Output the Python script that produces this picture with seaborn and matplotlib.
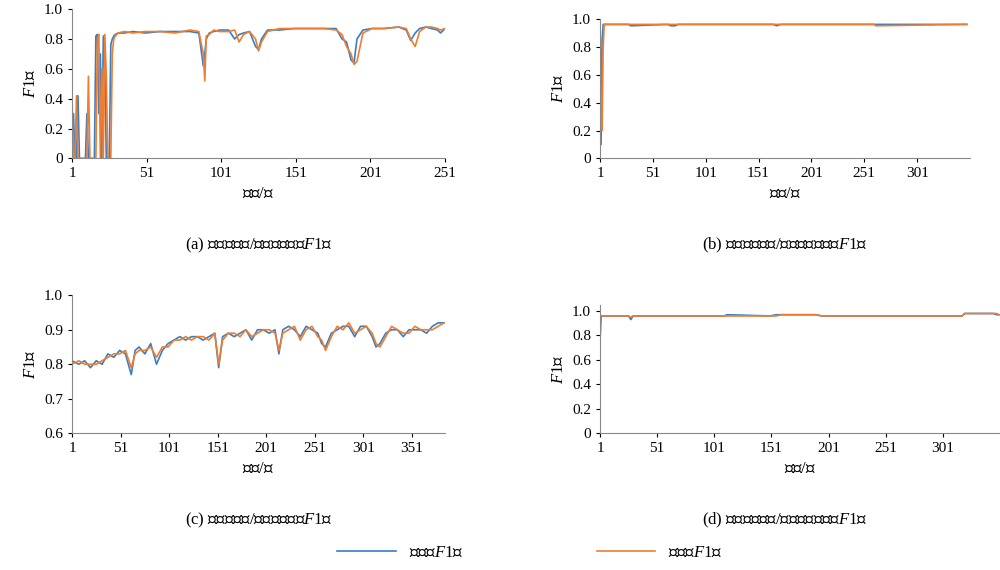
import matplotlib
matplotlib.use("Agg")
import matplotlib.pyplot as plt
import seaborn as sns
import pandas as pd

plt.rcParams["font.family"] = ["Liberation Serif", "Noto Sans CJK SC"]
plt.rcParams["mathtext.fontset"] = "custom"
plt.rcParams["mathtext.it"] = "Liberation Serif:italic"
plt.rcParams["mathtext.cal"] = "Liberation Serif"
plt.rcParams["mathtext.rm"] = "Noto Sans CJK SC"

a_x = [1,2,3,4,5,6,7,8,9,10, 11,12,13,14,15,16,17,18,19,20, 21,22,23,24,25,26,27,28,29,30,
       32,36,42,50,60,70,80,86,89,90, 91,93,96,100,106,110,113,116,120,124,
       126,128,132,140,150,160,170,178,182,185, 188,190,192,196,202,210,220,225,228,231,
       234,238,242,246,248,251]
a_train = [0.0,0.3,0.0,0.0,0.42,0.0,0.0,0.0,0.0,0.0, 0.3,0.0,0.0,0.0,0.0,0.0,0.82,0.83,0.3,0.7,
           0.0,0.82,0.6,0.0,0.0,0.0,0.76,0.8,0.82,0.83, 0.84,0.84,0.85,0.84,0.85,0.85,0.85,0.84,0.62,0.7,
           0.8,0.84,0.85,0.86,0.86,0.8,0.83,0.84,0.85,0.75, 0.73,0.8,0.86,0.86,0.87,0.87,0.87,0.87,0.8,0.78,
           0.66,0.64,0.8,0.86,0.87,0.87,0.88,0.86,0.79,0.84, 0.87,0.88,0.87,0.86,0.84,0.87]
a_test = [0.4,0.0,0.0,0.42,0.0,0.0,0.0,0.0,0.0,0.0, 0.0,0.55,0.0,0.0,0.0,0.0,0.0,0.8,0.83,0.0,
          0.6,0.0,0.83,0.55,0.0,0.0,0.0,0.7,0.8,0.82, 0.84,0.85,0.84,0.85,0.85,0.84,0.86,0.85,0.7,0.52,
          0.82,0.83,0.86,0.85,0.85,0.86,0.78,0.83,0.85,0.8, 0.72,0.78,0.85,0.87,0.87,0.87,0.87,0.86,0.83,0.75,
          0.7,0.63,0.65,0.84,0.87,0.87,0.88,0.87,0.8,0.75, 0.85,0.88,0.88,0.87,0.86,0.87]

b_x = [1,2,3,4,5,8,15,28,30,65,68,72,75,100,165,168,172,260,262,345,348]
b_train = [0.96,0.1,0.85,0.96,0.96,0.96,0.96,0.96,0.95,0.96,0.95,0.95,0.96,0.96,0.96,0.95,0.96,0.96,0.96,0.96,0.96]
b_test = [0.96,0.3,0.2,0.8,0.96,0.96,0.96,0.96,0.96,0.96,0.96,0.96,0.96,0.96,0.96,0.96,0.96,0.96,0.95,0.96,0.96]

c_x = [1,8,14,20,26,32,38,44,50,56, 62,66,70,76,82,88,94,100,106,112,
       118,124,130,136,142,148,152,156,162,168, 174,180,186,192,198,204,210,214,218,224,
       230,236,242,248,254,258,262,268,274,280, 286,292,298,304,310,314,318,324,330,336,
       342,348,354,360,366,372,378,384]
c_train = [0.81,0.8,0.81,0.79,0.81,0.8,0.83,0.82,0.84,0.83, 0.77,0.84,0.85,0.83,0.86,0.8,0.84,0.86,0.87,0.88,
           0.87,0.88,0.88,0.87,0.88,0.89,0.79,0.88,0.89,0.88, 0.89,0.9,0.87,0.9,0.9,0.89,0.9,0.83,0.9,0.91,
           0.9,0.88,0.91,0.9,0.89,0.86,0.85,0.89,0.9,0.91, 0.91,0.88,0.91,0.91,0.88,0.85,0.86,0.89,0.9,0.9,
           0.88,0.9,0.9,0.9,0.89,0.91,0.92,0.92]
c_test = [0.8,0.81,0.8,0.8,0.8,0.81,0.82,0.83,0.83,0.84, 0.79,0.83,0.84,0.84,0.85,0.82,0.85,0.85,0.87,0.87,
          0.88,0.87,0.88,0.88,0.87,0.89,0.8,0.87,0.89,0.89, 0.88,0.9,0.88,0.89,0.9,0.9,0.89,0.84,0.89,0.9,
          0.91,0.87,0.9,0.91,0.88,0.87,0.84,0.88,0.91,0.9, 0.92,0.89,0.9,0.91,0.89,0.86,0.85,0.88,0.91,0.9,
          0.89,0.89,0.91,0.9,0.9,0.9,0.91,0.92]

d_x = [1,2,26,28,30,110,112,150,155,160,190,195,200,318,320,345,348,350]
d_train = [0.75,0.96,0.96,0.93,0.96,0.96,0.97,0.96,0.97,0.97,0.97,0.96,0.96,0.96,0.98,0.98,0.97,0.97]
d_test = [0.96,0.96,0.96,0.95,0.96,0.96,0.96,0.96,0.96,0.97,0.97,0.96,0.96,0.96,0.98,0.98,0.98,0.97]

F1 = r"$\mathit{F}\mathcal{1}$"
captions = [r"$\mathcal{(a)\ }$夫子庙满意" + r"$\mathcal{/}$没有满意分类" + F1 + "值",
            r"$\mathcal{(b)\ }$夫子庙不满意" + r"$\mathcal{/}$没有不满意分类" + F1 + "值",
            r"$\mathcal{(c)\ }$新街口满意" + r"$\mathcal{/}$没有满意分类" + F1 + "值",
            r"$\mathcal{(d)\ }$新街口不满意" + r"$\mathcal{/}$没有不满意分类" + F1 + "值"]
labels = ["训练集" + F1 + "值", "测试集" + F1 + "值"]
ylab = F1 + "值"
xlab = r"次数$\mathcal{/}$次"
colors = ["#3B7DC4", "#ED7D31"]

fig = plt.figure(figsize=(10, 5.7), dpi=100)
boxes = [(0.072, 0.722, 0.373, 0.262), (0.6, 0.722, 0.37, 0.245),
         (0.072, 0.24, 0.373, 0.242), (0.6, 0.24, 0.4, 0.225)]
panels = [(a_x, a_train, a_test, 251, (0, 1.0), [0, .2, .4, .6, .8, 1.0], [1,51,101,151,201,251]),
          (b_x, b_train, b_test, 351, (0, 1.0), [0, .2, .4, .6, .8, 1.0], [1,51,101,151,201,251,301]),
          (c_x, c_train, c_test, 385, (0.6, 1.0), [.6, .7, .8, .9, 1.0], [1,51,101,151,201,251,301,351]),
          (d_x, d_train, d_test, 351, (0, 1.05), [0, .2, .4, .6, .8, 1.0], [1,51,101,151,201,251,301])]
handles = None
for i, (box, (x, tr, te, xmax, yl, yt, xt)) in enumerate(zip(boxes, panels)):
    ax = fig.add_axes(box)
    df = pd.DataFrame({"x": list(x) * 2, "y": list(tr) + list(te),
                       "s": [labels[0]] * len(x) + [labels[1]] * len(x)})
    sns.lineplot(data=df, x="x", y="y", hue="s", palette=colors, ax=ax, linewidth=1.2, legend=True)
    handles, lbls = ax.get_legend_handles_labels()
    ax.get_legend().remove()
    ax.set_xlim(1, xmax)
    ax.set_ylim(*yl)
    ax.set_yticks(yt)
    ax.set_yticklabels(["0" if v == 0 else f"{v:.1f}" for v in yt], fontsize=11)
    ax.set_xticks(xt)
    ax.set_xticklabels([str(v) for v in xt], fontsize=11)
    ax.tick_params(length=3, direction="out")
    for s in ["top", "right"]:
        ax.spines[s].set_visible(False)
    for s in ["left", "bottom"]:
        ax.spines[s].set_color("#888888")
    ax.set_xlabel(xlab, fontsize=12)
    ax.set_ylabel(ylab, fontsize=12)
    cx = box[0] + box[2] / 2 if i % 2 == 0 else 0.785
    fig.text(cx, box[1] - 0.16, captions[i], ha="center", fontsize=12)

fig.legend(handles, lbls, loc="lower center", ncol=2, frameon=False, fontsize=12,
           bbox_to_anchor=(0.53, -0.01), columnspacing=8, handlelength=3.5)
fig.savefig("out.png", dpi=100, facecolor="white")
